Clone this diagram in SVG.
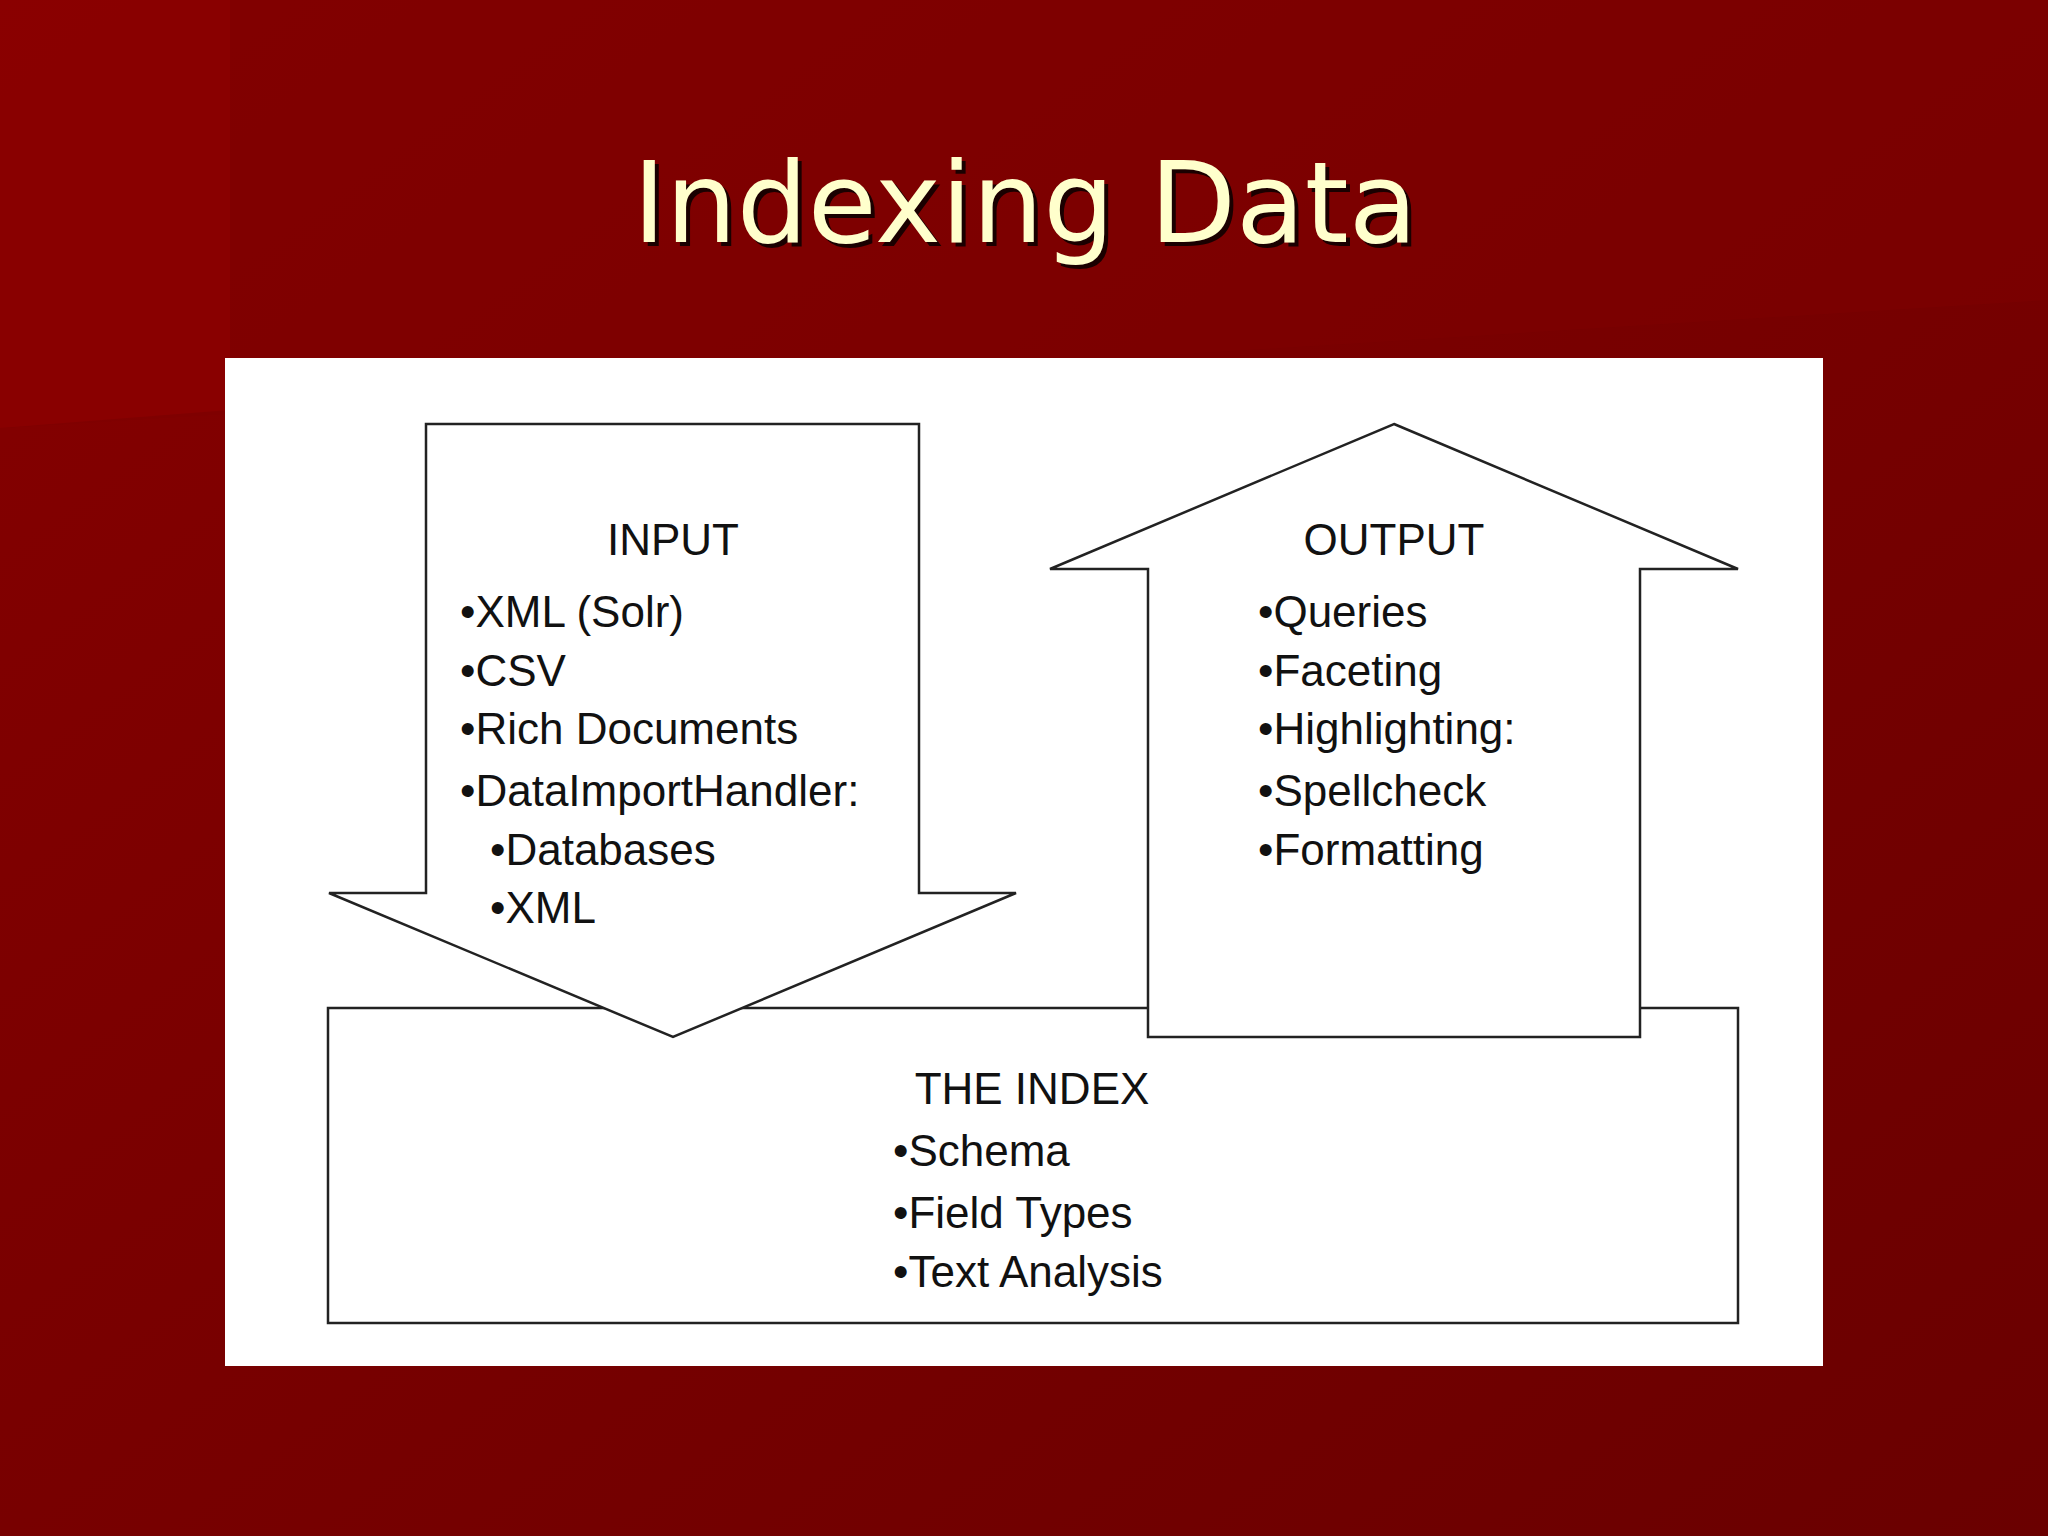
<svg xmlns="http://www.w3.org/2000/svg" width="2048" height="1536" viewBox="0 0 2048 1536">
<defs>
<linearGradient id="bg" x1="0" y1="0" x2="1" y2="1">
<stop offset="0" stop-color="#860000"/><stop offset="1" stop-color="#6a0000"/>
</linearGradient>
<style>
.t{font-family:"Liberation Sans",Arial,sans-serif;font-size:44px;fill:#111}
.s{fill:#fff;stroke:#222;stroke-width:2.5}
</style>
</defs>
<rect width="2048" height="1536" fill="url(#bg)"/>
<polygon points="0,0 2048,0 2048,300 0,428" fill="#7e0000" opacity="0.5"/>
<polygon points="0,0 230,0 230,410 0,428" fill="#900000" opacity="0.6"/>
<text x="1029" y="246" text-anchor="middle" font-family="DejaVu Sans,sans-serif" font-size="112" fill="#1a0000">Indexing Data</text>
<text x="1025" y="242" text-anchor="middle" font-family="DejaVu Sans,sans-serif" font-size="112" fill="#ffffcc">Indexing Data</text>
<rect x="225" y="358" width="1598" height="1008" fill="#fff"/>
<g id="index"><rect class="s" x="328" y="1008" width="1410" height="315"/>
<text class="t" x="1032" y="1104" text-anchor="middle">THE INDEX</text>
<text class="t" x="893" y="1166">•Schema</text>
<text class="t" x="893" y="1228">•Field Types</text>
<text class="t" x="893" y="1287">•Text Analysis</text></g>
<g id="input"><polygon class="s" points="426,424 919,424 919,893 1016,893 673,1037 329,893 426,893"/>
<text class="t" x="673" y="555" text-anchor="middle">INPUT</text>
<text class="t" x="460" y="627">•XML (Solr)</text>
<text class="t" x="460" y="686">•CSV</text>
<text class="t" x="460" y="744">•Rich Documents</text>
<text class="t" x="460" y="806">•DataImportHandler:</text>
<text class="t" x="490" y="865">•Databases</text>
<text class="t" x="490" y="923">•XML</text></g>
<g id="output"><polygon class="s" points="1394,424 1738,569 1640,569 1640,1037 1148,1037 1148,569 1050,569"/>
<text class="t" x="1394" y="555" text-anchor="middle">OUTPUT</text>
<text class="t" x="1258" y="627">•Queries</text>
<text class="t" x="1258" y="686">•Faceting</text>
<text class="t" x="1258" y="744">•Highlighting:</text>
<text class="t" x="1258" y="806">•Spellcheck</text>
<text class="t" x="1258" y="865">•Formatting</text></g>
<g id="connectors"/>
</svg>
